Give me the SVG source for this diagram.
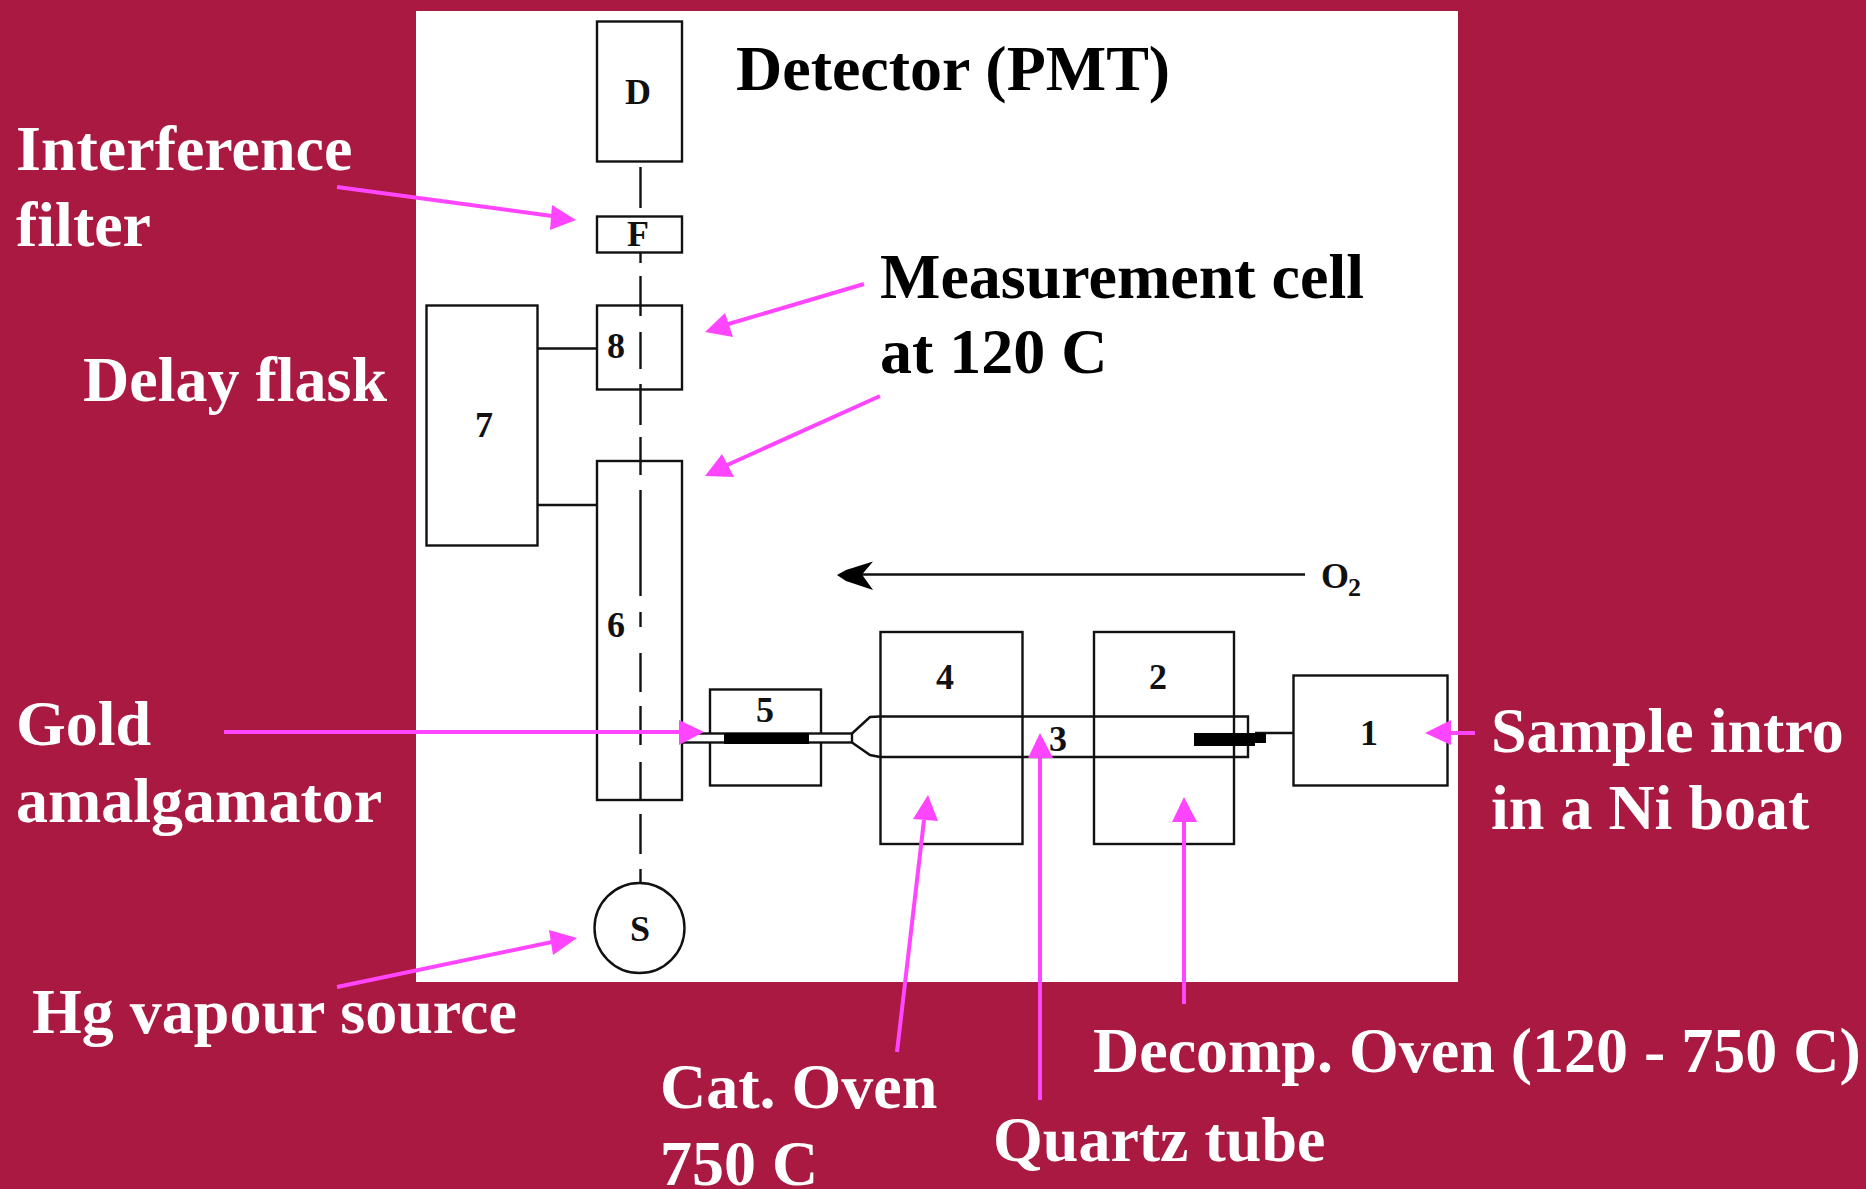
<svg xmlns="http://www.w3.org/2000/svg" width="1866" height="1189" viewBox="0 0 1866 1189">
<style>
.b{fill:none;stroke:#111;stroke-width:2.4}
.d{fill:none;stroke:#111;stroke-width:2.4}
.m{fill:none;stroke:#ff45ff;stroke-width:4}
.h{fill:#ff45ff}
.w{font:bold 64px "Liberation Serif",serif;fill:#fff}
.k{font:bold 64px "Liberation Serif",serif;fill:#000}
.n{font:bold 36px "Liberation Serif",serif;fill:#111;text-anchor:middle}
</style>
<rect width="1866" height="1189" fill="#a91942"/>
<rect x="416" y="11" width="1042" height="971" fill="#fff"/>
<g id="connectors">
<path class="d" d="M640.500 167V208M640.500 253V263M640.500 276V316M640.500 332V369M640.500 384V425M640.500 437V475M640.500 490V596M640.500 612V627M640.500 653V692M640.500 706V745M640.500 762V800M640.500 814V854M640.500 869V884"/>
<path class="b" d="M537 348.500H597M537 505H597"/>
<path class="b" d="M1305 574.500H860"/>
<path d="M837 575L846 570L873 561.500L862 574.500L873 590L846 581Z" fill="#000"/>
<path class="b" d="M1255 733H1293"/>
</g>
<g id="node-D"><rect class="b" x="597" y="21.500" width="85" height="140"/><text class="n" x="638" y="104">D</text></g>
<g id="node-F"><rect class="b" x="597" y="216.500" width="85" height="36"/><text class="n" x="638" y="246">F</text></g>
<g id="node-8"><rect class="b" x="597" y="305.500" width="85" height="84"/><text class="n" x="616" y="358">8</text></g>
<g id="node-7"><rect class="b" x="426.500" y="305.500" width="111" height="240"/><text class="n" x="484" y="437">7</text></g>
<g id="node-6"><rect class="b" x="597" y="461" width="85" height="339"/><text class="n" x="616" y="637">6</text></g>
<g id="node-S"><circle class="b" cx="639.500" cy="928" r="45"/><text class="n" x="640" y="941">S</text></g>
<g id="node-5"><rect class="b" x="710" y="689.500" width="111" height="96"/><rect class="b" x="682" y="733.500" width="170" height="9" style="fill:#fff"/><rect x="724" y="733" width="85" height="11" fill="#000"/><text class="n" x="765" y="722">5</text></g>
<g id="node-4"><rect class="b" x="880.500" y="632" width="142" height="212"/><text class="n" x="945" y="689">4</text></g>
<g id="node-3"><path class="b" d="M880 716.500H1248V757H880M880 716.500L870 717L852 733.500M852 742.500L870 755L880 757"/><text class="n" x="1058" y="751">3</text></g>
<g id="node-2"><rect class="b" x="1094" y="632" width="140" height="212"/><text class="n" x="1158" y="689">2</text></g>
<g id="node-1"><rect class="b" x="1293.500" y="675.500" width="154" height="110"/><text class="n" x="1369" y="745">1</text></g>
<g id="sample-boat"><path d="M1194 733H1266V743H1255V746H1250V746H1194Z" fill="#000"/></g>
<g id="o2"><text x="1321" y="588" style="font:bold 36px 'Liberation Serif',serif;fill:#111">O</text><text x="1348" y="596" style="font:bold 26px 'Liberation Serif',serif;fill:#111">2</text></g>
<g id="arrows">
<path class="m" d="M337 187L552 216"/><path class="h" d="M576 220L552 205L550 230Z"/>
<path class="m" d="M864 284L725 325"/><path class="h" d="M705 332L725 313L733 337Z"/>
<path class="m" d="M880 396L725 466"/><path class="h" d="M705 476L722 454L734 477Z"/>
<path class="m" d="M224 732H680"/><path class="h" d="M704 732L679 720V745Z"/>
<path class="m" d="M1475 733H1450"/><path class="h" d="M1425 733L1451 720V745Z"/>
<path class="m" d="M337 987L552 942"/><path class="h" d="M577 938L549 930L553 955Z"/>
<path class="m" d="M897 1052L924 820"/><path class="h" d="M928 795L913 819L938 821Z"/>
<path class="m" d="M1040 1100V758"/><path class="h" d="M1040 733L1028 758H1053Z"/>
<path class="m" d="M1184 1004V822"/><path class="h" d="M1184 797L1172 822H1197Z"/>
</g>
<g id="labels">
<text class="k" x="736" y="90">Detector (PMT)</text>
<text class="k" x="880" y="298">Measurement cell</text>
<text class="k" x="880" y="373">at 120 C</text>
<text class="w" x="16" y="170">Interference</text>
<text class="w" x="16" y="246">filter</text>
<text class="w" x="83" y="401">Delay flask</text>
<text class="w" x="16" y="745">Gold</text>
<text class="w" x="16" y="822">amalgamator</text>
<text class="w" x="1491" y="752">Sample intro</text>
<text class="w" x="1491" y="829">in a Ni boat</text>
<text class="w" x="32" y="1033">Hg vapour source</text>
<text class="w" x="660" y="1108">Cat. Oven</text>
<text class="w" x="660" y="1185">750 C</text>
<text class="w" x="993" y="1161">Quartz tube</text>
<text class="w" x="1093" y="1072">Decomp. Oven (120 - 750 C)</text>
</g>
</svg>
